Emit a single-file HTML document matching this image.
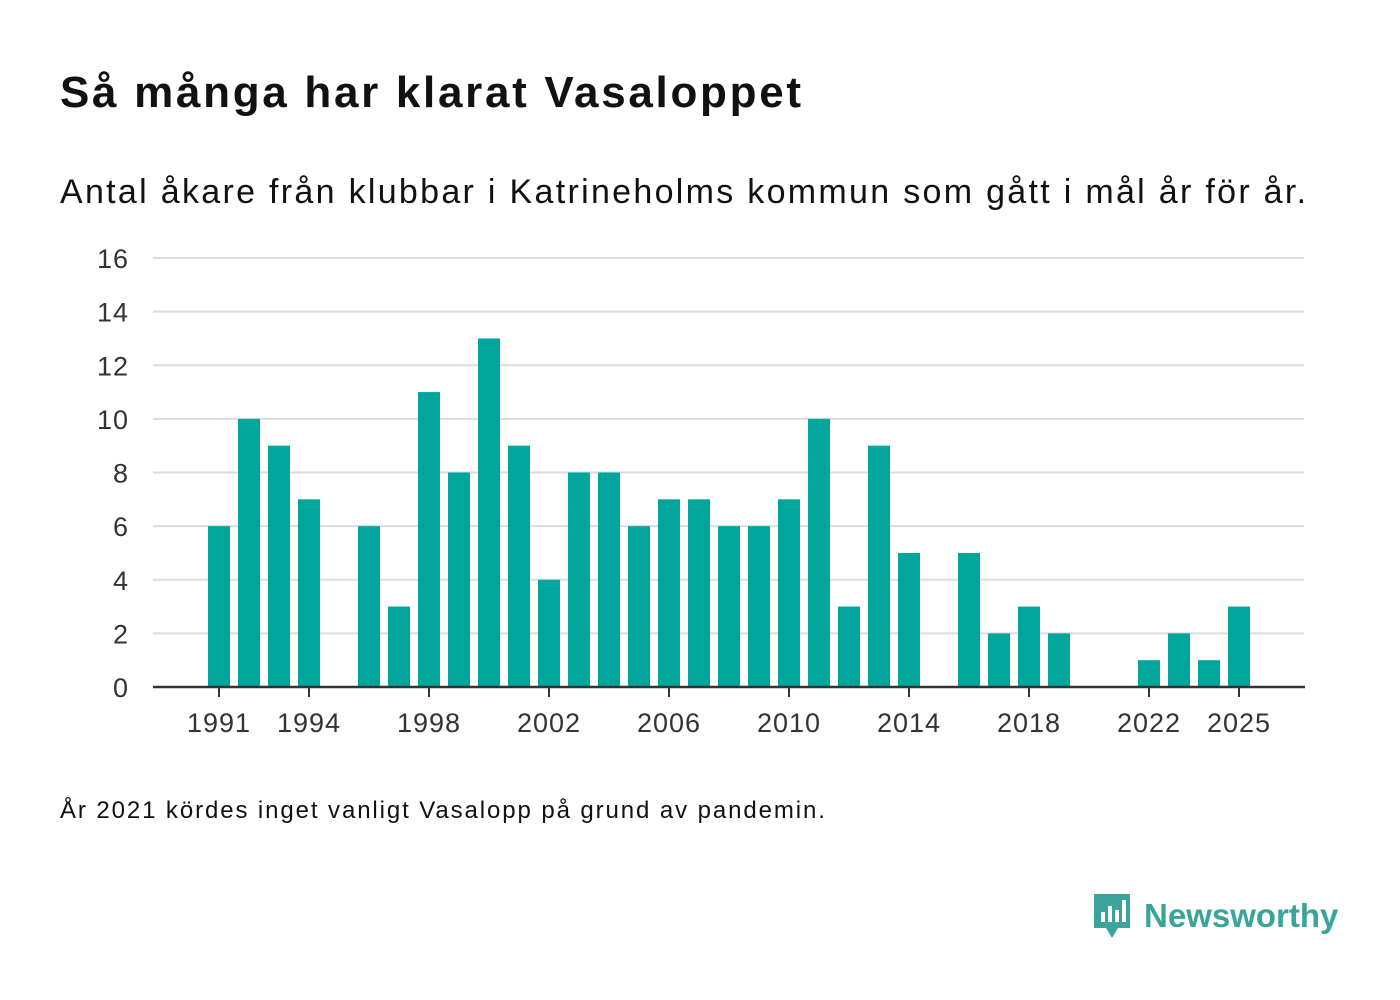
<!DOCTYPE html>
<html><head><meta charset="utf-8"><style>
body{margin:0;background:#fff;font-family:"Liberation Sans",sans-serif;color:#111;}
#wrap{position:relative;width:1400px;height:1000px;overflow:hidden;}
</style></head><body>
<div id="wrap">
<div style="position:absolute;left:60px;top:68px;font-size:44px;font-weight:bold;letter-spacing:2.7px;white-space:nowrap;">Så många har klarat Vasaloppet</div>
<div style="position:absolute;left:60px;top:173px;font-size:34px;letter-spacing:2.3px;white-space:nowrap;">Antal åkare från klubbar i Katrineholms kommun som gått i mål år för år.</div>
<svg id="chart" width="1400" height="780" style="position:absolute;left:0;top:0"></svg>
<div style="position:absolute;left:60px;top:797px;font-size:24px;letter-spacing:1.9px;white-space:nowrap;">År 2021 kördes inget vanligt Vasalopp på grund av pandemin.</div>
<div style="position:absolute;left:1092px;top:892px;display:flex;align-items:center;">
<svg width="40" height="48"><path d="M2 2h36v34H26l-6 10-6-10H2z" fill="#3aa39a"/><rect x="9" y="20" width="4" height="10" fill="#fff"/><rect x="16" y="14" width="4" height="16" fill="#fff"/><rect x="23" y="18" width="4" height="12" fill="#fff"/><rect x="30" y="8" width="4" height="22" fill="#fff"/></svg>
<span style="font-size:33px;font-weight:bold;color:#3aa39a;margin-left:12px;">Newsworthy</span>
</div>
</div>
<script>
const years=[1991,1992,1993,1994,1995,1996,1997,1998,1999,2000,2001,2002,2003,2004,2005,2006,2007,2008,2009,2010,2011,2012,2013,2014,2015,2016,2017,2018,2019,2020,2021,2022,2023,2024,2025];
const values=[6,10,9,7,0,6,3,11,8,13,9,4,8,8,6,7,7,6,6,7,10,3,9,5,0,5,2,3,2,0,0,1,2,1,3];
const yTicks=[0,2,4,6,8,10,12,14,16];
const xTickYears=[1991,1994,1998,2002,2006,2010,2014,2018,2022,2025];
const NS="http://www.w3.org/2000/svg";
const svg=document.getElementById('chart');
const x=y=>219+(y-1991)*30;
const yS=v=>687-v*(429/16);
function mk(t,a){const e=document.createElementNS(NS,t);for(const k in a)e.setAttribute(k,a[k]);svg.appendChild(e);return e;}
yTicks.forEach(v=>{
 if(v>0){const g=mk('line',{x1:153,x2:1304,y1:yS(v),y2:yS(v),stroke:'#dcdcdc','stroke-width':2});
 
 }
 const t=mk('text',{x:129,y:yS(v)+10,'text-anchor':'end','font-size':27,'letter-spacing':1,fill:'#333','font-family':'Liberation Sans, sans-serif'});
 t.textContent=v;
 
 
});
years.forEach((yr,i)=>{
 if(values[i]<=0)return;
 const r=mk('rect',{x:x(yr)-11,y:yS(values[i]),width:22,height:yS(0)-yS(values[i]),fill:'#00a69c'});
 
 
});
const ax=mk('line',{x1:153,x2:1305,y1:687,y2:687,stroke:'#333','stroke-width':2.5});


xTickYears.forEach(yr=>{
 const l=mk('line',{x1:x(yr),x2:x(yr),y1:687,y2:697,stroke:'#333','stroke-width':2});
 
 
 const t=mk('text',{x:x(yr),y:732,'text-anchor':'middle','font-size':27,'letter-spacing':1,fill:'#333','font-family':'Liberation Sans, sans-serif'});
 t.textContent=yr;
 
 
});
</script>
</body></html>
